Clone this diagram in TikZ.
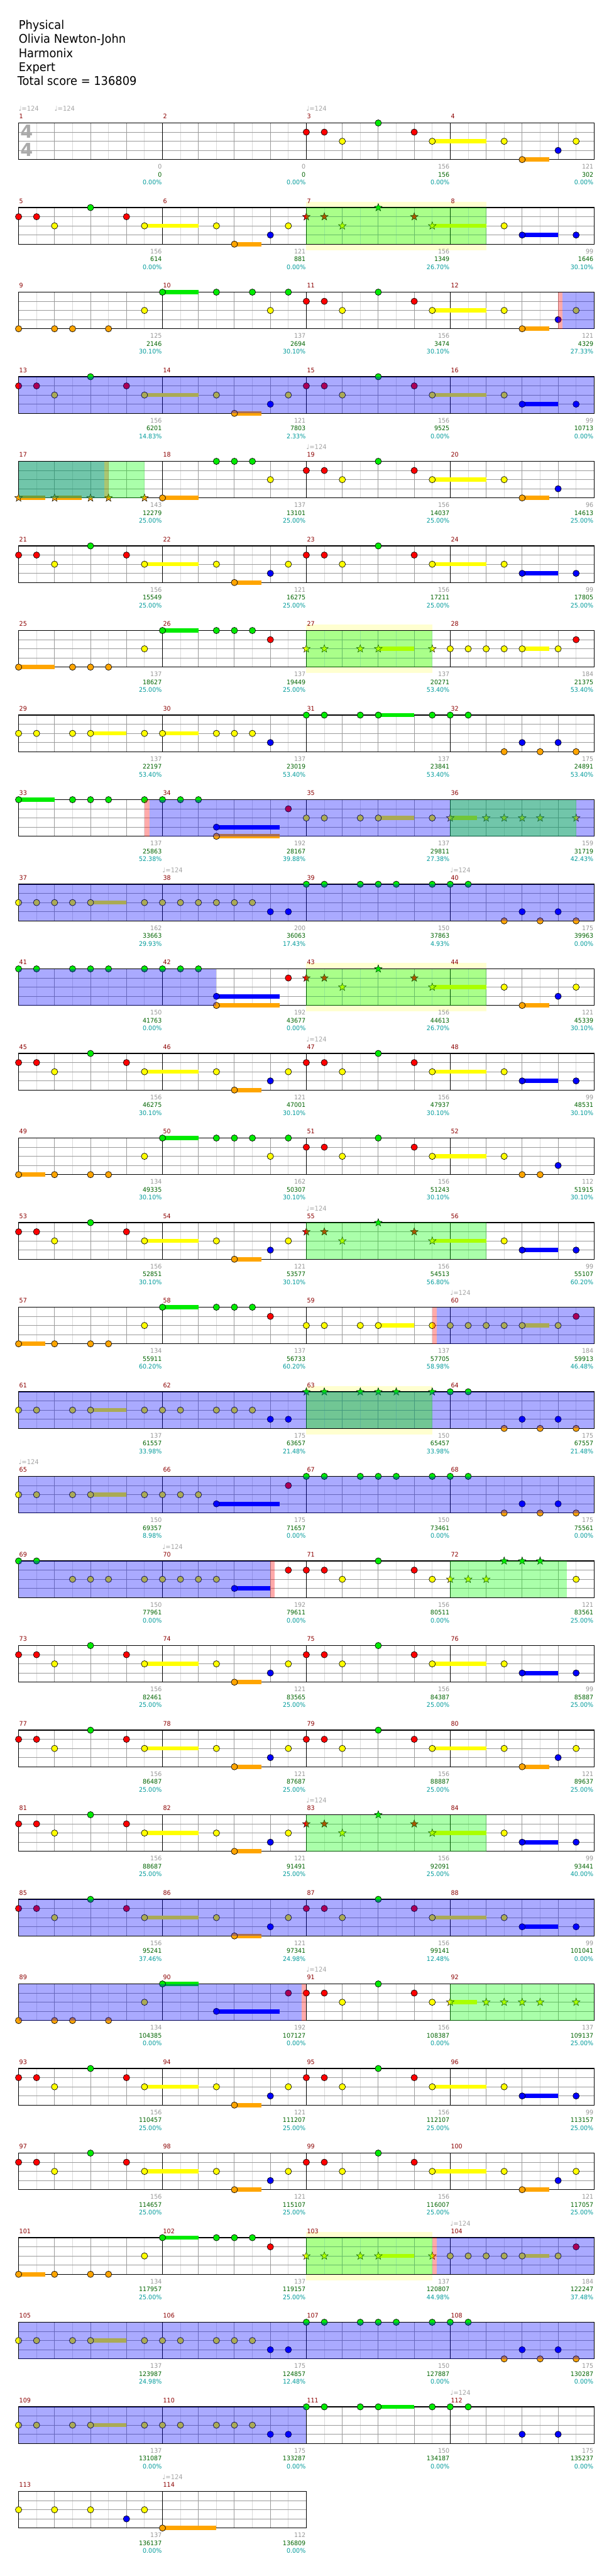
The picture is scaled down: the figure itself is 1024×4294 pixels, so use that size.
\documentclass[tikz,border=0pt]{standalone}
\usepackage{fontspec}
\setmainfont{DejaVu Sans}
\newfontfamily\hdrfont{DejaVu Sans}[FakeStretch=0.935]
\newfontfamily\smallfont{DejaVu Sans}[FakeStretch=0.95]
\definecolor{lane0}{RGB}{0,235,0}
\definecolor{lane1}{RGB}{255,0,0}
\definecolor{lane2}{RGB}{255,255,0}
\definecolor{lane3}{RGB}{0,0,255}
\definecolor{lane4}{RGB}{255,165,0}
\definecolor{hbc}{RGB}{218,218,218}
\definecolor{btc}{RGB}{155,155,155}
\definecolor{mnc}{RGB}{140,0,0}
\definecolor{tpc}{RGB}{165,165,165}
\definecolor{sac}{RGB}{150,150,150}
\definecolor{sbc}{RGB}{0,100,0}
\definecolor{scc}{RGB}{0,155,155}
\definecolor{bandc}{RGB}{255,255,208}
\definecolor{tsc}{RGB}{170,170,170}
\definecolor{ovB}{RGB}{0,0,255}
\definecolor{ovG}{RGB}{0,255,0}
\definecolor{ovR}{RGB}{255,0,0}
\tikzset{
  hb/.style={draw=hbc, line width=1},
  bt/.style={draw=btc, line width=1},
  barl/.style={draw=black, line width=1},
  border/.style={draw=black, line width=1.5},
  mnum/.style={text=mnc, font=\smallfont\fontsize{10.5}{12}\selectfont, inner sep=0},
  tmp/.style={text=tpc, font=\smallfont\fontsize{11}{12}\selectfont, inner sep=0},
  sa/.style={text=sac, font=\smallfont\fontsize{10.5}{12}\selectfont, inner sep=0},
  sb/.style={text=sbc, font=\smallfont\fontsize{10.5}{12}\selectfont, inner sep=0},
  sc/.style={text=scc, font=\smallfont\fontsize{10.5}{12}\selectfont, inner sep=0},
  hdr/.style={text=black, font=\hdrfont\fontsize{20}{23}\selectfont, inner sep=0},
  tsig/.style={text=tsc, font=\bfseries\fontsize{30}{30}\selectfont, inner sep=0},
  notehead/.style={draw=black, line width=0.7},
  ovl/.style={fill opacity=0.333}
}
% ---------- macros ----------
\newcommand\staff[2]{%
  \pgfmathsetmacro\rowT{205+141*#1}%
  \pgfmathsetmacro\rowB{\rowT+61}%
  \pgfmathtruncatemacro\nh{8*#2-1}%
  \pgfmathsetmacro\xe{31+240*#2}%
  \foreach \k in {1,...,\nh}{\draw[hb] ({31+30*\k},\rowT) -- ({31+30*\k},\rowB);}%
  \pgfmathtruncatemacro\nb{4*#2-1}%
  \foreach \k in {1,...,\nb}{\draw[bt] ({31+60*\k},\rowT) -- ({31+60*\k},\rowB);}%
  \foreach \l in {1,2,3}{\draw[bt] (31,{\rowT+15.25*\l}) -- (\xe,{\rowT+15.25*\l});}%
  \pgfmathtruncatemacro\nm{#2-1}%
  \foreach \k in {1,...,\nm}{\draw[barl] ({31+240*\k},\rowT) -- ({31+240*\k},\rowB);}%
  \draw[border] (31,\rowT) rectangle (\xe,\rowB);%
  \foreach \k in {1,...,#2}{%
    \pgfmathtruncatemacro\mn{4*#1+\k}%
    \node[mnum, anchor=base west] (mn\mn) at ({32+240*(\k-1)},{\rowT-7.3}) {\mn};}%
}
\newcommand\nts[2]{%
  \pgfmathsetmacro\nT{205+141*#1}%
  \edef\nlist{#2}%
  \foreach \p/\l/\s in \nlist {%
    \ifdim \s pt>0pt
      \fill[lane\l] ({31+30*\p},{\nT+15.25*\l-3.5}) rectangle ({31+30*(\p+\s)},{\nT+15.25*\l+3.5});
    \fi}%
  \foreach \p/\l/\s in \nlist {%
    \filldraw[notehead, fill=lane\l] ({31+30*\p},{\nT+15.25*\l}) circle[radius=5.3];}%
}
\newcommand\starat[3]{%
  \filldraw[fill=#3, draw=black, line width=0.5] (#1,#2) +(-90:6.8) -- +(-54:2.8) -- +(-18:6.8) -- +(18:2.8) -- +(54:6.8) -- +(90:2.8) -- +(126:6.8) -- +(162:2.8) -- +(198:6.8) -- +(234:2.8) -- cycle;}
\newcommand\strs[2]{%
  \pgfmathsetmacro\nT{205+141*#1}%
  \edef\nlist{#2}%
  \foreach \p/\l/\s in \nlist {%
    \ifdim \s pt>0pt
      \fill[lane\l] ({31+30*\p},{\nT+15.25*\l-3.5}) rectangle ({31+30*(\p+\s)},{\nT+15.25*\l+3.5});
    \fi}%
  \foreach \p/\l/\s in \nlist {%
    \starat{{31+30*\p}}{{\nT+15.25*\l}}{lane\l}}%
}
\newcommand\ov[4]{%
  \pgfmathsetmacro\oT{205+141*#1}%
  \fill[#2, ovl] ({31+30*#3},\oT) rectangle ({31+30*#4},{\oT+61});}
\newcommand\band[3]{%
  \pgfmathsetmacro\oT{205+141*#1}%
  \fill[bandc] ({31+30*#2},{\oT-10}) rectangle ({31+30*#3},{\oT+71});}
\newcommand\tempo[2]{%
  \pgfmathsetmacro\oT{205+141*#1}%
  \node[tmp, anchor=base west] (tp#1x#2) at (#2,{\oT-19.7}) {♩=124};}
\newcommand\msc[4]{%
  \pgfmathtruncatemacro\rr{(#1-1)/4}%
  \pgfmathtruncatemacro\cc{#1-1-4*\rr}%
  \pgfmathsetmacro\xx{30+240*(\cc+1)}%
  \pgfmathsetmacro\yy{205+141*\rr}%
  \node[sa, anchor=base east] (sa#1) at (\xx,{\yy+76.5}) {#2};%
  \node[sb, anchor=base east] (sb#1) at (\xx,{\yy+90}) {#3};%
  \node[sc, anchor=base east] (sc#1) at (\xx,{\yy+103}) {#4};}
% patterns
\def\PAa{0/1/0, 1/1/0, 2/2/0, 4/0/0, 6/1/0, 7/2/3, 11/2/0, 12/4/1.5, 14/3/0, 15/2/0}
\def\PAb{16/1/0, 17/1/0, 18/2/0, 20/0/0, 22/1/0, 23/2/3, 27/2/0, 28/3/2, 31/3/0}
\def\PAc{16/1/0, 17/1/0, 18/2/0, 20/0/0, 22/1/0, 23/2/3, 27/2/0, 28/4/1.5, 30/3/0, 31/2/0}
\def\PSt{16/1/0, 17/1/0, 18/2/0, 20/0/0, 22/1/0, 23/2/3}
\def\PYc{0/2/0, 1/2/0, 3/2/0, 4/2/2, 7/2/0, 8/2/0, 9/2/0, 11/2/0, 12/2/0, 13/2/0, 14/3/0, 15/3/0}
\def\PGc{24/0/0, 25/0/0, 27/4/0, 28/3/0, 29/4/0, 30/3/0, 31/4/0}
\begin{document}
\begin{tikzpicture}[x=1pt,y=-1pt]
\useasboundingbox (0,0) rectangle (1024,4294);
\fill[white] (0,0) rectangle (1024,4294);
% header
\node[hdr, anchor=base west] (h1) at (31,49) {Physical};
\node[hdr, anchor=base west] (h2) at (31,72.3) {Olivia Newton-John};
\node[hdr, anchor=base west] (h3) at (31,95.6) {Harmonix};
\node[hdr, anchor=base west] (h4) at (31,118.6) {Expert};
\node[hdr, anchor=base west] (h5) at (29,141.7) {Total score = 136809};
% ---------- row 0 ----------
\staff{0}{4}
\node[tsig] (ts1) at (44.5,219.5) {4};
\node[tsig] (ts2) at (44.5,250) {4};
\nts{0}{\PAc}
\tempo{0}{31}\tempo{0}{91}\tempo{0}{511}
% ---------- row 1 ----------
\band{1}{16}{26}
\staff{1}{4}
\nts{1}{\PAa, 27/2/0, 28/3/2, 31/3/0}
\strs{1}{\PSt}
\ov{1}{ovG}{16}{26}
% ---------- row 2 ----------
\staff{2}{4}
\nts{2}{0/4/0, 2/4/0, 3/4/0, 5/4/0, 7/2/0, 8/0/2, 11/0/0, 13/0/0, 14/2/0, 15/0/0, \PAc}
\ov{2}{ovR}{30}{30.25}
\ov{2}{ovB}{30.25}{32}
% ---------- row 3 ----------
\staff{3}{4}
\nts{3}{\PAa, \PAb}
\ov{3}{ovB}{0}{32}
% ---------- row 4 ----------
\staff{4}{4}
\strs{4}{0/4/1.5, 2/4/1.5, 4/4/0, 5/4/0, 7/4/0}
\nts{4}{8/4/2, 11/0/0, 12/0/0, 13/0/0, 14/2/0, 16/1/0, 17/1/0, 18/2/0, 20/0/0, 22/1/0, 23/2/3, 27/2/0, 28/4/1.5, 30/3/0}
\ov{4}{ovB}{0}{4.75}
\ov{4}{ovR}{4.75}{5}
\ov{4}{ovG}{0}{7}
\tempo{4}{511}
% ---------- row 5 ----------
\staff{5}{4}
\nts{5}{\PAa, \PAb}
% ---------- row 6 ----------
\band{6}{16}{23}
\staff{6}{4}
\nts{6}{0/4/2, 3/4/0, 4/4/0, 5/4/0, 7/2/0, 8/0/2, 11/0/0, 12/0/0, 13/0/0, 14/1/0, 24/2/0, 25/2/0, 26/2/0, 27/2/0, 28/2/1.5, 30/2/0, 31/1/0}
\strs{6}{16/2/0, 17/2/0, 19/2/0, 20/2/2, 23/2/0}
\ov{6}{ovG}{16}{23}
% ---------- row 7 ----------
\staff{7}{4}
\nts{7}{0/2/0, 1/2/0, 3/2/0, 4/2/2, 7/2/0, 8/2/2, 11/2/0, 12/2/0, 13/2/0, 14/3/0, 16/0/0, 17/0/0, 19/0/0, 20/0/2, 23/0/0, 24/0/0, 25/0/0, 27/4/0, 28/3/0, 29/4/0, 30/3/0, 31/4/0}
% ---------- row 8 ----------
\staff{8}{4}
\nts{8}{0/0/2, 3/0/0, 4/0/0, 5/0/0, 7/0/0, 8/0/0, 9/0/0, 10/0/0, 11/3/3.5, 11/4/3.5, 15/1/0, 16/2/0, 17/2/0, 19/2/0, 20/2/2, 23/2/0}
\strs{8}{24/2/1.5, 26/2/0, 27/2/0, 28/2/0, 29/2/0, 31/2/0}
\ov{8}{ovR}{7}{7.3}
\ov{8}{ovB}{7.3}{32}
\ov{8}{ovG}{24}{31}
% ---------- row 9 ----------
\staff{9}{4}
\nts{9}{0/2/0, 1/2/0, 2/2/0, 3/2/0, 4/2/2, 7/2/0, 8/2/0, 9/2/0, 10/2/0, 11/2/0, 12/2/0, 13/2/0, 14/3/0, 15/3/0, 16/0/0, 17/0/0, 19/0/0, 20/0/0, 21/0/0, 23/0/0, 24/0/0, 25/0/0, 27/4/0, 28/3/0, 29/4/0, 30/3/0, 31/4/0}
\ov{9}{ovB}{0}{32}
\tempo{9}{271}\tempo{9}{751}
% ---------- row 10 ----------
\band{10}{16}{26}
\staff{10}{4}
\nts{10}{0/0/0, 1/0/0, 3/0/0, 4/0/0, 5/0/0, 7/0/0, 8/0/0, 9/0/0, 10/0/0, 11/3/3.5, 11/4/3.5, 15/1/0, 27/2/0, 28/4/1.5, 30/3/0, 31/2/0}
\strs{10}{\PSt}
\ov{10}{ovB}{0}{11}
\ov{10}{ovG}{16}{26}
% ---------- row 11 ----------
\staff{11}{4}
\nts{11}{\PAa, \PAb}
\tempo{11}{511}
% ---------- row 12 ----------
\staff{12}{4}
\nts{12}{0/4/1.5, 2/4/0, 4/4/0, 5/4/0, 7/2/0, 8/0/2, 11/0/0, 12/0/0, 13/0/0, 14/2/0, 15/0/0, 16/1/0, 17/1/0, 18/2/0, 20/0/0, 22/1/0, 23/2/3, 27/2/0, 28/4/0, 29/4/0, 30/3/0}
% ---------- row 13 ----------
\staff{13}{4}
\nts{13}{\PAa, 27/2/0, 28/3/2, 31/3/0}
\strs{13}{\PSt}
\ov{13}{ovG}{16}{26}
\tempo{13}{511}
% ---------- row 14 ----------
\staff{14}{4}
\nts{14}{0/4/1.5, 2/4/0, 4/4/0, 5/4/0, 7/2/0, 8/0/2, 11/0/0, 12/0/0, 13/0/0, 14/1/0, 16/2/0, 17/2/0, 19/2/0, 20/2/2, 23/2/0, 24/2/0, 25/2/0, 26/2/0, 27/2/0, 28/2/1.5, 30/2/0, 31/1/0}
\ov{14}{ovR}{23}{23.25}
\ov{14}{ovB}{23.25}{32}
\tempo{14}{751}
% ---------- row 15 ----------
\band{15}{16}{23}
\staff{15}{4}
\nts{15}{\PYc, \PGc}
\strs{15}{16/0/0, 17/0/0, 19/0/0, 20/0/0, 21/0/0, 23/0/0}
\ov{15}{ovB}{0}{32}
\ov{15}{ovG}{16}{23}
% ---------- row 16 ----------
\staff{16}{4}
\nts{16}{0/2/0, 1/2/0, 3/2/0, 4/2/2, 7/2/0, 8/2/0, 9/2/0, 10/2/0, 11/3/3.5, 15/1/0, 16/0/0, 17/0/0, 19/0/0, 20/0/0, 21/0/0, 23/0/0, 24/0/0, 25/0/0, 27/4/0, 28/3/0, 29/4/0, 30/3/0, 31/4/0}
\ov{16}{ovB}{0}{32}
\tempo{16}{31}
% ---------- row 17 ----------
\staff{17}{4}
\nts{17}{0/0/0, 1/0/0, 3/2/0, 4/2/0, 5/2/0, 7/2/0, 8/2/0, 9/2/0, 10/2/0, 11/2/0, 12/3/2, 15/1/0, 16/1/0, 17/1/0, 18/2/0, 20/0/0, 22/1/0, 23/2/0, 31/2/0}
\strs{17}{24/2/0, 25/2/0, 26/2/0, 27/0/0, 28/0/0, 29/0/0}
\ov{17}{ovB}{0}{14}
\ov{17}{ovR}{14}{14.25}
\ov{17}{ovG}{24}{30.5}
\tempo{17}{271}
% ---------- row 18 ----------
\staff{18}{4}
\nts{18}{\PAa, \PAb}
% ---------- row 19 ----------
\staff{19}{4}
\nts{19}{\PAa, \PAc}
% ---------- row 20 ----------
\staff{20}{4}
\nts{20}{\PAa, 27/2/0, 28/3/2, 31/3/0}
\strs{20}{\PSt}
\ov{20}{ovG}{16}{26}
\tempo{20}{511}
% ---------- row 21 ----------
\staff{21}{4}
\nts{21}{\PAa, \PAb}
\ov{21}{ovB}{0}{32}
% ---------- row 22 ----------
\staff{22}{4}
\nts{22}{0/4/0, 2/4/0, 3/4/0, 5/4/0, 7/2/0, 8/0/2, 11/3/3.5, 15/1/0, 16/1/0, 17/1/0, 18/2/0, 20/0/0, 22/1/0, 23/2/0}
\strs{22}{24/2/1.5, 26/2/0, 27/2/0, 28/2/0, 29/2/0, 31/2/0}
\ov{22}{ovB}{0}{15.75}
\ov{22}{ovR}{15.75}{16}
\ov{22}{ovG}{24}{32}
\tempo{22}{511}
% ---------- row 23 ----------
\staff{23}{4}
\nts{23}{\PAa, \PAb}
% ---------- row 24 ----------
\staff{24}{4}
\nts{24}{\PAa, \PAc}
% ---------- row 25 ----------
\band{25}{16}{23}
\staff{25}{4}
\nts{25}{0/4/1.5, 2/4/0, 4/4/0, 5/4/0, 7/2/0, 8/0/2, 11/0/0, 12/0/0, 13/0/0, 14/1/0, 24/2/0, 25/2/0, 26/2/0, 27/2/0, 28/2/1.5, 30/2/0, 31/1/0}
\strs{25}{16/2/0, 17/2/0, 19/2/0, 20/2/2, 23/2/0}
\ov{25}{ovG}{16}{23}
\ov{25}{ovR}{23}{23.25}
\ov{25}{ovB}{23.25}{32}
\tempo{25}{751}
% ---------- row 26 ----------
\staff{26}{4}
\nts{26}{\PYc, 16/0/0, 17/0/0, 19/0/0, 20/0/0, 21/0/0, 23/0/0, \PGc}
\ov{26}{ovB}{0}{32}
% ---------- row 27 ----------
\staff{27}{4}
\nts{27}{\PYc, 16/0/0, 17/0/0, 19/0/0, 20/0/2, 23/0/0, 24/0/0, 25/0/0, 28/3/0, 30/3/0}
\ov{27}{ovB}{0}{16}
\tempo{27}{751}
% ---------- row 28 ----------
\staff{28}{2}
\nts{28}{0/2/0, 2/2/0, 4/2/0, 6/3/0, 7/2/0, 8/4/3}
\tempo{28}{271}
% ---------- scores ----------
\msc{1}{0}{0}{0.00\%}\msc{2}{0}{0}{0.00\%}\msc{3}{156}{156}{0.00\%}\msc{4}{121}{302}{0.00\%}
\msc{5}{156}{614}{0.00\%}\msc{6}{121}{881}{0.00\%}\msc{7}{156}{1349}{26.70\%}\msc{8}{99}{1646}{30.10\%}
\msc{9}{125}{2146}{30.10\%}\msc{10}{137}{2694}{30.10\%}\msc{11}{156}{3474}{30.10\%}\msc{12}{121}{4329}{27.33\%}
\msc{13}{156}{6201}{14.83\%}\msc{14}{121}{7803}{2.33\%}\msc{15}{156}{9525}{0.00\%}\msc{16}{99}{10713}{0.00\%}
\msc{17}{143}{12279}{25.00\%}\msc{18}{137}{13101}{25.00\%}\msc{19}{156}{14037}{25.00\%}\msc{20}{96}{14613}{25.00\%}
\msc{21}{156}{15549}{25.00\%}\msc{22}{121}{16275}{25.00\%}\msc{23}{156}{17211}{25.00\%}\msc{24}{99}{17805}{25.00\%}
\msc{25}{137}{18627}{25.00\%}\msc{26}{137}{19449}{25.00\%}\msc{27}{137}{20271}{53.40\%}\msc{28}{184}{21375}{53.40\%}
\msc{29}{137}{22197}{53.40\%}\msc{30}{137}{23019}{53.40\%}\msc{31}{137}{23841}{53.40\%}\msc{32}{175}{24891}{53.40\%}
\msc{33}{137}{25863}{52.38\%}\msc{34}{192}{28167}{39.88\%}\msc{35}{137}{29811}{27.38\%}\msc{36}{159}{31719}{42.43\%}
\msc{37}{162}{33663}{29.93\%}\msc{38}{200}{36063}{17.43\%}\msc{39}{150}{37863}{4.93\%}\msc{40}{175}{39963}{0.00\%}
\msc{41}{150}{41763}{0.00\%}\msc{42}{192}{43677}{0.00\%}\msc{43}{156}{44613}{26.70\%}\msc{44}{121}{45339}{30.10\%}
\msc{45}{156}{46275}{30.10\%}\msc{46}{121}{47001}{30.10\%}\msc{47}{156}{47937}{30.10\%}\msc{48}{99}{48531}{30.10\%}
\msc{49}{134}{49335}{30.10\%}\msc{50}{162}{50307}{30.10\%}\msc{51}{156}{51243}{30.10\%}\msc{52}{112}{51915}{30.10\%}
\msc{53}{156}{52851}{30.10\%}\msc{54}{121}{53577}{30.10\%}\msc{55}{156}{54513}{56.80\%}\msc{56}{99}{55107}{60.20\%}
\msc{57}{134}{55911}{60.20\%}\msc{58}{137}{56733}{60.20\%}\msc{59}{137}{57705}{58.98\%}\msc{60}{184}{59913}{46.48\%}
\msc{61}{137}{61557}{33.98\%}\msc{62}{175}{63657}{21.48\%}\msc{63}{150}{65457}{33.98\%}\msc{64}{175}{67557}{21.48\%}
\msc{65}{150}{69357}{8.98\%}\msc{66}{175}{71657}{0.00\%}\msc{67}{150}{73461}{0.00\%}\msc{68}{175}{75561}{0.00\%}
\msc{69}{150}{77961}{0.00\%}\msc{70}{192}{79611}{0.00\%}\msc{71}{156}{80511}{0.00\%}\msc{72}{121}{83561}{25.00\%}
\msc{73}{156}{82461}{25.00\%}\msc{74}{121}{83565}{25.00\%}\msc{75}{156}{84387}{25.00\%}\msc{76}{99}{85887}{25.00\%}
\msc{77}{156}{86487}{25.00\%}\msc{78}{121}{87687}{25.00\%}\msc{79}{156}{88887}{25.00\%}\msc{80}{121}{89637}{25.00\%}
\msc{81}{156}{88687}{25.00\%}\msc{82}{121}{91491}{25.00\%}\msc{83}{156}{92091}{25.00\%}\msc{84}{99}{93441}{40.00\%}
\msc{85}{156}{95241}{37.46\%}\msc{86}{121}{97341}{24.98\%}\msc{87}{156}{99141}{12.48\%}\msc{88}{99}{101041}{0.00\%}
\msc{89}{134}{104385}{0.00\%}\msc{90}{192}{107127}{0.00\%}\msc{91}{156}{108387}{0.00\%}\msc{92}{137}{109137}{25.00\%}
\msc{93}{156}{110457}{25.00\%}\msc{94}{121}{111207}{25.00\%}\msc{95}{156}{112107}{25.00\%}\msc{96}{99}{113157}{25.00\%}
\msc{97}{156}{114657}{25.00\%}\msc{98}{121}{115107}{25.00\%}\msc{99}{156}{116007}{25.00\%}\msc{100}{121}{117057}{25.00\%}
\msc{101}{134}{117957}{25.00\%}\msc{102}{137}{119157}{25.00\%}\msc{103}{137}{120807}{44.98\%}\msc{104}{184}{122247}{37.48\%}
\msc{105}{137}{123987}{24.98\%}\msc{106}{175}{124857}{12.48\%}\msc{107}{150}{127887}{0.00\%}\msc{108}{175}{130287}{0.00\%}
\msc{109}{137}{131087}{0.00\%}\msc{110}{175}{133287}{0.00\%}\msc{111}{150}{134187}{0.00\%}\msc{112}{175}{135237}{0.00\%}
\msc{113}{137}{136137}{0.00\%}\msc{114}{112}{136809}{0.00\%}
\end{tikzpicture}
\end{document}
